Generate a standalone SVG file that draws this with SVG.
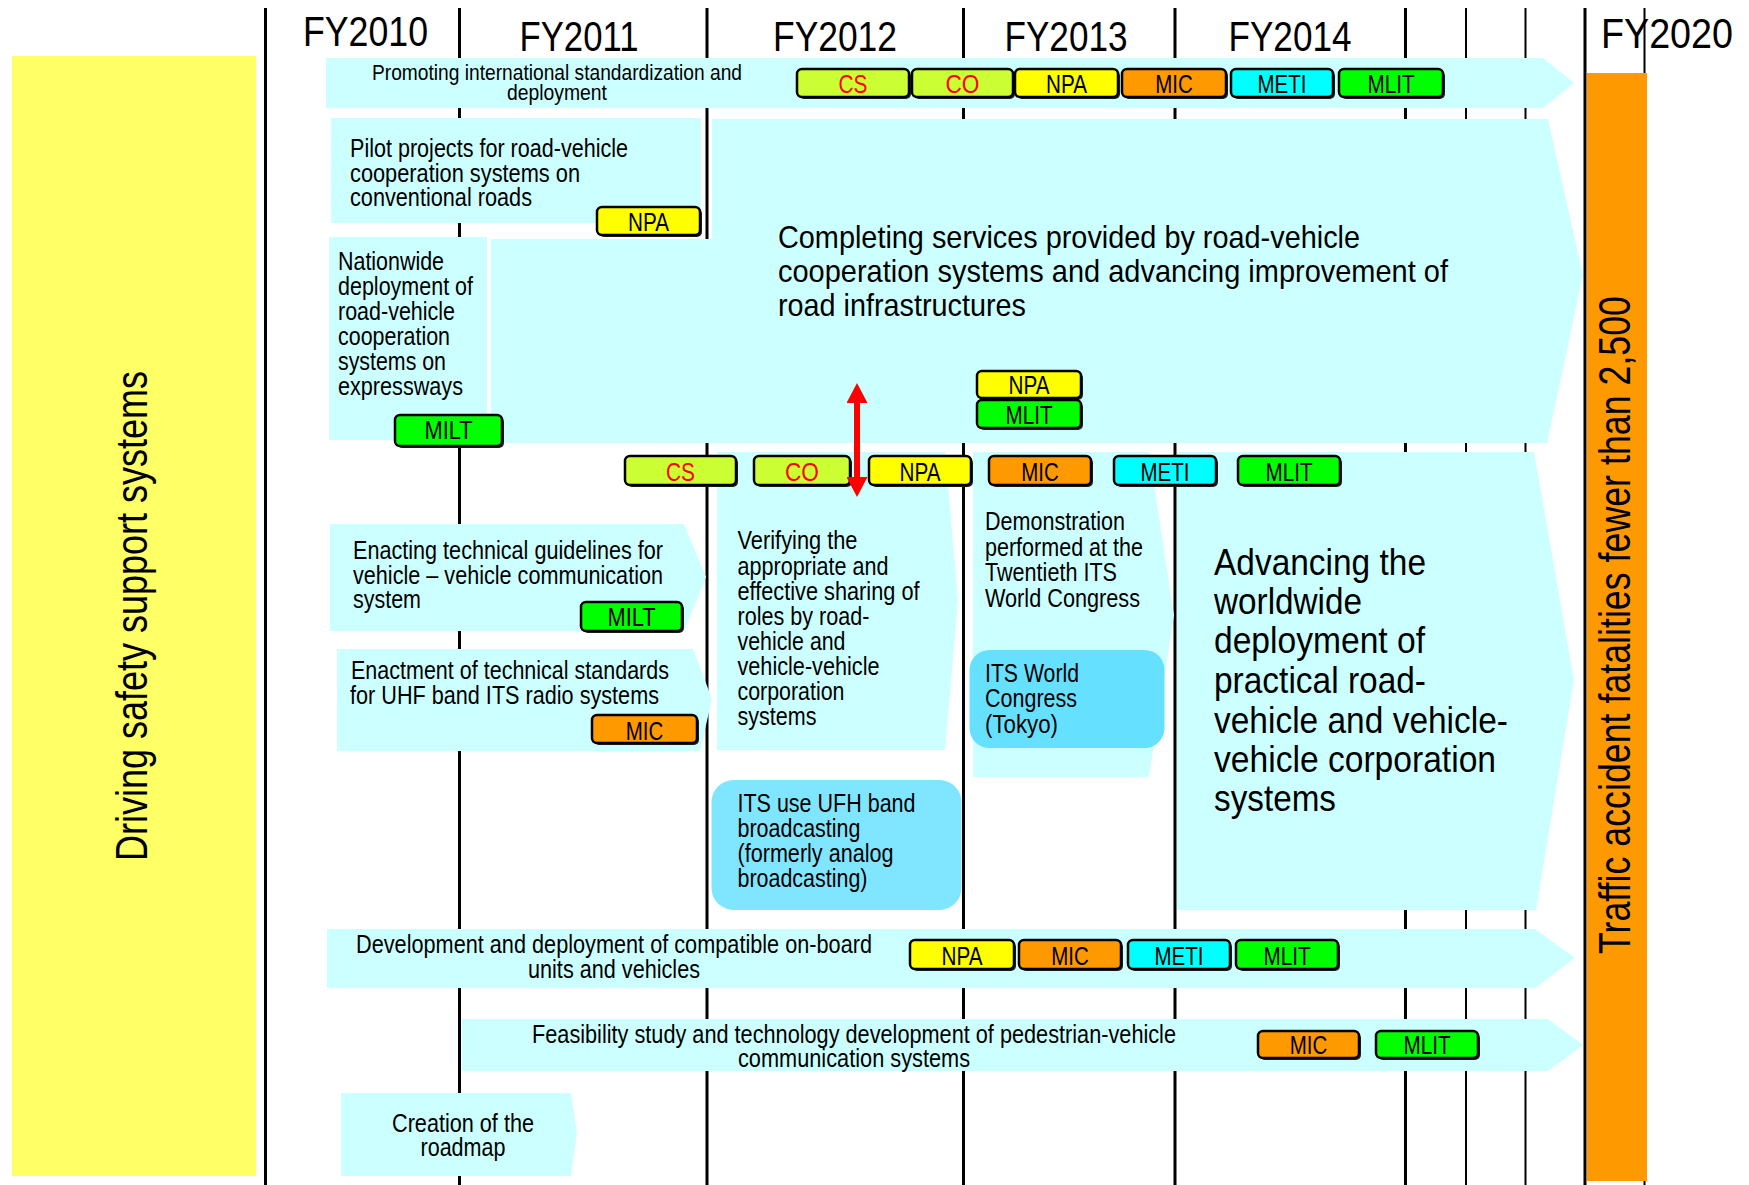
<svg xmlns="http://www.w3.org/2000/svg" width="1749" height="1185" viewBox="0 0 1749 1185">
<style>
.t{font-family:"Liberation Sans Narrow","Liberation Sans",Arial,sans-serif;fill:#000}
.b{font-size:26px}
.s{font-size:22px}
.m{font-size:25px}
.hdr{font-size:42px}
.cy{fill:#CCFFFF}
.vl{stroke:#000;stroke-width:3}
.vt{stroke:#000;stroke-width:2}
.sh{fill:#222}
.bx{stroke:#000;stroke-width:2.5}
.tt{font-size:25px;text-anchor:middle}
.red{fill:#FF0000}
.cs{fill:#CCFF33}.npa{fill:#FFFF00}.mic{fill:#FF9900}.meti{fill:#00FFFF}.mlit{fill:#00FF00}
</style>
<defs>
<marker id="ah" viewBox="0 0 20 21" refX="0" refY="10.5" markerWidth="20" markerHeight="21" markerUnits="userSpaceOnUse" orient="auto-start-reverse">
<path d="M0,0 L20,10.5 L0,21 z" fill="#FF0000"/>
</marker>
</defs>
<rect width="1749" height="1185" fill="#FFFFFF"/>

<g id="headers">
<text class="t hdr" x="365.5" y="46" text-anchor="middle" textLength="125" lengthAdjust="spacingAndGlyphs">FY2010</text>
<text class="t hdr" x="579" y="51" text-anchor="middle" textLength="119" lengthAdjust="spacingAndGlyphs">FY2011</text>
<text class="t hdr" x="835" y="51" text-anchor="middle" textLength="124" lengthAdjust="spacingAndGlyphs">FY2012</text>
<text class="t hdr" x="1066" y="51" text-anchor="middle" textLength="123" lengthAdjust="spacingAndGlyphs">FY2013</text>
<text class="t hdr" x="1290" y="51" text-anchor="middle" textLength="123" lengthAdjust="spacingAndGlyphs">FY2014</text>
<text class="t hdr" x="1667" y="48" text-anchor="middle" textLength="132" lengthAdjust="spacingAndGlyphs">FY2020</text>
</g>

<g id="year-lines">
<line class="vl" x1="265.5" y1="8" x2="265.5" y2="1185"/>
<line class="vl" x1="459.5" y1="8" x2="459.5" y2="1185"/>
<line class="vl" x1="707" y1="8" x2="707" y2="1185"/>
<line class="vl" x1="963.5" y1="8" x2="963.5" y2="1185"/>
<line class="vl" x1="1175" y1="8" x2="1175" y2="1185"/>
<line class="vl" x1="1405.5" y1="8" x2="1405.5" y2="1185"/>
<line class="vt" x1="1466" y1="8" x2="1466" y2="1185"/>
<line class="vt" x1="1525.5" y1="8" x2="1525.5" y2="1185"/>
<line class="vl" x1="1585" y1="8" x2="1585" y2="1185"/>
<line class="vt" x1="1644.5" y1="8" x2="1644.5" y2="1185"/>
</g>

<g id="left-category">
<rect x="12" y="56" width="244" height="1120" fill="#FFFF66"/>
<text class="t" font-size="44" transform="translate(147,861) rotate(-90)" textLength="490" lengthAdjust="spacingAndGlyphs">Driving safety support systems</text>
</g>

<g id="goal">
<rect x="1587" y="73" width="60" height="1108" fill="#FF9900"/>
<text class="t" font-size="44" transform="translate(1630,954) rotate(-90)" textLength="658" lengthAdjust="spacingAndGlyphs">Traffic accident fatalities fewer than 2,500</text>
</g>

<g id="n-promoting">
<polygon class="cy" points="326,58 1543,58 1574,83 1543,108 326,108"/>
<text class="t s" x="557" y="80" text-anchor="middle" textLength="370" lengthAdjust="spacingAndGlyphs">Promoting international standardization and</text>
<text class="t s" x="557" y="100" text-anchor="middle" textLength="100" lengthAdjust="spacingAndGlyphs">deployment</text>
</g>

<g id="n-completing">
<polygon class="cy" points="712,119 1548,119 1583,275 1547,443 491,443 491,239 712,239"/>
<text class="t" font-size="32" x="778" y="248" textLength="582" lengthAdjust="spacingAndGlyphs">Completing services provided by road-vehicle</text>
<text class="t" font-size="32" x="778" y="282" textLength="670" lengthAdjust="spacingAndGlyphs">cooperation systems and advancing improvement of</text>
<text class="t" font-size="32" x="778" y="316" textLength="248" lengthAdjust="spacingAndGlyphs">road infrastructures</text>
</g>

<g id="n-pilot">
<rect class="cy" x="331" y="118" width="370" height="105"/>
<text class="t b" x="350" y="157" textLength="278" lengthAdjust="spacingAndGlyphs">Pilot projects for road-vehicle</text>
<text class="t b" x="350" y="182" textLength="230" lengthAdjust="spacingAndGlyphs">cooperation systems on</text>
<text class="t b" x="350" y="206" textLength="182" lengthAdjust="spacingAndGlyphs">conventional roads</text>
</g>

<g id="n-nationwide">
<rect class="cy" x="329" y="237" width="158" height="203"/>
<text class="t b" x="338" y="270" textLength="106" lengthAdjust="spacingAndGlyphs">Nationwide</text>
<text class="t b" x="338" y="295" textLength="135" lengthAdjust="spacingAndGlyphs">deployment of</text>
<text class="t b" x="338" y="320" textLength="117" lengthAdjust="spacingAndGlyphs">road-vehicle</text>
<text class="t b" x="338" y="345" textLength="112" lengthAdjust="spacingAndGlyphs">cooperation</text>
<text class="t b" x="338" y="370" textLength="108" lengthAdjust="spacingAndGlyphs">systems on</text>
<text class="t b" x="338" y="395" textLength="125" lengthAdjust="spacingAndGlyphs">expressways</text>
</g>

<g id="n-enacting">
<polygon class="cy" points="330,524 684,524 706,577 684,631 330,631"/>
<text class="t b" x="353" y="559" textLength="310" lengthAdjust="spacingAndGlyphs">Enacting technical guidelines for</text>
<text class="t b" x="353" y="584" textLength="310" lengthAdjust="spacingAndGlyphs">vehicle – vehicle communication</text>
<text class="t b" x="353" y="608" textLength="68" lengthAdjust="spacingAndGlyphs">system</text>
</g>

<g id="n-enactment">
<polygon class="cy" points="337,649 693,649 712,699 700,751 337,751"/>
<text class="t b" x="351" y="679" textLength="318" lengthAdjust="spacingAndGlyphs">Enactment of technical standards</text>
<text class="t b" x="350" y="704" textLength="309" lengthAdjust="spacingAndGlyphs">for UHF band ITS radio systems</text>
</g>

<g id="n-verifying">
<polygon class="cy" points="717,452 945,452 958,600 945,750 717,750"/>
<text class="t b" x="737.5" y="549" textLength="120" lengthAdjust="spacingAndGlyphs">Verifying the</text>
<text class="t b" x="737.5" y="575" textLength="151" lengthAdjust="spacingAndGlyphs">appropriate and</text>
<text class="t b" x="737.5" y="600" textLength="182" lengthAdjust="spacingAndGlyphs">effective sharing of</text>
<text class="t b" x="737.5" y="625" textLength="132" lengthAdjust="spacingAndGlyphs">roles by road-</text>
<text class="t b" x="737.5" y="650" textLength="108" lengthAdjust="spacingAndGlyphs">vehicle and</text>
<text class="t b" x="737.5" y="675" textLength="142" lengthAdjust="spacingAndGlyphs">vehicle-vehicle</text>
<text class="t b" x="737.5" y="700" textLength="107" lengthAdjust="spacingAndGlyphs">corporation</text>
<text class="t b" x="737.5" y="725" textLength="79" lengthAdjust="spacingAndGlyphs">systems</text>
</g>

<g id="n-ufh">
<rect x="711.5" y="780" width="250" height="130" rx="22" ry="22" fill="#80E6FF"/>
<text class="t b" x="737.5" y="812" textLength="178" lengthAdjust="spacingAndGlyphs">ITS use UFH band</text>
<text class="t b" x="737.5" y="837" textLength="123" lengthAdjust="spacingAndGlyphs">broadcasting</text>
<text class="t b" x="737.5" y="862" textLength="156" lengthAdjust="spacingAndGlyphs">(formerly analog</text>
<text class="t b" x="737.5" y="887" textLength="130" lengthAdjust="spacingAndGlyphs">broadcasting)</text>
</g>

<g id="n-demonstration">
<polygon class="cy" points="973,452 1149,452 1174,615 1149,777 973,777"/>
<text class="t b" x="985" y="530" textLength="140" lengthAdjust="spacingAndGlyphs">Demonstration</text>
<text class="t b" x="985" y="556" textLength="158" lengthAdjust="spacingAndGlyphs">performed at the</text>
<text class="t b" x="985" y="581" textLength="132" lengthAdjust="spacingAndGlyphs">Twentieth ITS</text>
<text class="t b" x="985" y="607" textLength="155" lengthAdjust="spacingAndGlyphs">World Congress</text>
</g>

<g id="n-congress">
<rect x="969.5" y="650" width="195" height="98" rx="20" ry="20" fill="#66E0FF"/>
<text class="t b" x="985" y="682" textLength="94" lengthAdjust="spacingAndGlyphs">ITS World</text>
<text class="t b" x="985" y="707" textLength="92" lengthAdjust="spacingAndGlyphs">Congress</text>
<text class="t b" x="985" y="733" textLength="73" lengthAdjust="spacingAndGlyphs">(Tokyo)</text>
</g>

<g id="n-advancing">
<polygon class="cy" points="1177,452 1534,452 1574,680 1536,910 1177,910"/>
<text class="t" font-size="36" x="1214" y="575" textLength="212" lengthAdjust="spacingAndGlyphs">Advancing the</text>
<text class="t" font-size="36" x="1214" y="614" textLength="148" lengthAdjust="spacingAndGlyphs">worldwide</text>
<text class="t" font-size="36" x="1214" y="653" textLength="211" lengthAdjust="spacingAndGlyphs">deployment of</text>
<text class="t" font-size="36" x="1214" y="693" textLength="212" lengthAdjust="spacingAndGlyphs">practical road-</text>
<text class="t" font-size="36" x="1214" y="733" textLength="294" lengthAdjust="spacingAndGlyphs">vehicle and vehicle-</text>
<text class="t" font-size="36" x="1214" y="772" textLength="282" lengthAdjust="spacingAndGlyphs">vehicle corporation</text>
<text class="t" font-size="36" x="1214" y="811" textLength="122" lengthAdjust="spacingAndGlyphs">systems</text>
</g>

<g id="n-development">
<polygon class="cy" points="327,929 1535,929 1575,958 1535,988 327,988"/>
<text class="t m" x="614" y="953" text-anchor="middle" textLength="516" lengthAdjust="spacingAndGlyphs">Development and deployment of compatible on-board</text>
<text class="t m" x="614" y="978" text-anchor="middle" textLength="172" lengthAdjust="spacingAndGlyphs">units and vehicles</text>
</g>

<g id="n-feasibility">
<polygon class="cy" points="462,1019 1548,1019 1583,1045 1548,1071 462,1071"/>
<text class="t m" x="854" y="1043" text-anchor="middle" textLength="644" lengthAdjust="spacingAndGlyphs">Feasibility study and technology development of pedestrian-vehicle</text>
<text class="t m" x="854" y="1067" text-anchor="middle" textLength="232" lengthAdjust="spacingAndGlyphs">communication systems</text>
</g>

<g id="n-creation">
<polygon class="cy" points="341,1093 571,1093 577,1133 571,1176 341,1176"/>
<text class="t b" x="463" y="1132" text-anchor="middle" textLength="142" lengthAdjust="spacingAndGlyphs">Creation of the</text>
<text class="t b" x="463" y="1156" text-anchor="middle" textLength="85" lengthAdjust="spacingAndGlyphs">roadmap</text>
</g>

<g id="tags">
<g id="tag-row1">
<rect class="sh" x="799" y="71" width="112" height="28" rx="5"/><rect class="bx cs" x="797" y="69" width="112" height="28" rx="5"/><text class="t tt red" x="853" y="93" textLength="29" lengthAdjust="spacingAndGlyphs">CS</text>
<rect class="sh" x="914" y="71" width="101" height="28" rx="5"/><rect class="bx cs" x="912" y="69" width="101" height="28" rx="5"/><text class="t tt red" x="962.5" y="93" textLength="34" lengthAdjust="spacingAndGlyphs">CO</text>
<rect class="sh" x="1017" y="71" width="103" height="28" rx="5"/><rect class="bx npa" x="1015" y="69" width="103" height="28" rx="5"/><text class="t tt" x="1066.5" y="93" textLength="41" lengthAdjust="spacingAndGlyphs">NPA</text>
<rect class="sh" x="1124" y="71" width="104" height="28" rx="5"/><rect class="bx mic" x="1122" y="69" width="104" height="28" rx="5"/><text class="t tt" x="1174" y="93" textLength="37.5" lengthAdjust="spacingAndGlyphs">MIC</text>
<rect class="sh" x="1233" y="71" width="102" height="28" rx="5"/><rect class="bx meti" x="1231" y="69" width="102" height="28" rx="5"/><text class="t tt" x="1282" y="93" textLength="49" lengthAdjust="spacingAndGlyphs">METI</text>
<rect class="sh" x="1341" y="71" width="104" height="28" rx="5"/><rect class="bx mlit" x="1339" y="69" width="104" height="28" rx="5"/><text class="t tt" x="1391" y="93" textLength="47" lengthAdjust="spacingAndGlyphs">MLIT</text>
</g>
<g id="tag-pilot">
<rect class="sh" x="599" y="209" width="103" height="28" rx="5"/><rect class="bx npa" x="597" y="207" width="103" height="28" rx="5"/><text class="t tt" x="648.5" y="231" textLength="41" lengthAdjust="spacingAndGlyphs">NPA</text>
</g>
<g id="tag-nationwide">
<rect class="sh" x="397" y="417" width="107" height="31" rx="5"/><rect class="bx mlit" x="395" y="415" width="107" height="31" rx="5"/><text class="t tt" x="448.5" y="439" textLength="48" lengthAdjust="spacingAndGlyphs">MILT</text>
</g>
<g id="tag-stack">
<rect class="sh" x="979" y="373" width="104" height="27" rx="5"/><rect class="bx npa" x="977" y="371" width="104" height="27" rx="5"/><text class="t tt" x="1029" y="394" textLength="41" lengthAdjust="spacingAndGlyphs">NPA</text>
<rect class="sh" x="979" y="402" width="104" height="28" rx="5"/><rect class="bx mlit" x="977" y="400" width="104" height="28" rx="5"/><text class="t tt" x="1029" y="424" textLength="47" lengthAdjust="spacingAndGlyphs">MLIT</text>
</g>
<g id="tag-row2">
<rect class="sh" x="627" y="458" width="111" height="29" rx="5"/><rect class="bx cs" x="625" y="456" width="111" height="29" rx="5"/><text class="t tt red" x="680.5" y="481" textLength="29" lengthAdjust="spacingAndGlyphs">CS</text>
<rect class="sh" x="756" y="458" width="96" height="29" rx="5"/><rect class="bx cs" x="754" y="456" width="96" height="29" rx="5"/><text class="t tt red" x="802" y="481" textLength="34" lengthAdjust="spacingAndGlyphs">CO</text>
<rect class="sh" x="871" y="458" width="102" height="29" rx="5"/><rect class="bx npa" x="869" y="456" width="102" height="29" rx="5"/><text class="t tt" x="920" y="481" textLength="41" lengthAdjust="spacingAndGlyphs">NPA</text>
<rect class="sh" x="991" y="458" width="102" height="29" rx="5"/><rect class="bx mic" x="989" y="456" width="102" height="29" rx="5"/><text class="t tt" x="1040" y="481" textLength="37.5" lengthAdjust="spacingAndGlyphs">MIC</text>
<rect class="sh" x="1116" y="458" width="102" height="29" rx="5"/><rect class="bx meti" x="1114" y="456" width="102" height="29" rx="5"/><text class="t tt" x="1165" y="481" textLength="49" lengthAdjust="spacingAndGlyphs">METI</text>
<rect class="sh" x="1240" y="458" width="102" height="29" rx="5"/><rect class="bx mlit" x="1238" y="456" width="102" height="29" rx="5"/><text class="t tt" x="1289" y="481" textLength="47" lengthAdjust="spacingAndGlyphs">MLIT</text>
</g>
<g id="tag-enacting">
<rect class="sh" x="583" y="604" width="101" height="29" rx="5"/><rect class="bx mlit" x="581" y="602" width="101" height="29" rx="5"/><text class="t tt" x="631.5" y="626" textLength="48" lengthAdjust="spacingAndGlyphs">MILT</text>
</g>
<g id="tag-enactment">
<rect class="sh" x="594" y="717" width="105" height="28" rx="5"/><rect class="bx mic" x="592" y="715" width="105" height="28" rx="5"/><text class="t tt" x="644.5" y="740" textLength="37.5" lengthAdjust="spacingAndGlyphs">MIC</text>
</g>
<g id="tag-development">
<rect class="sh" x="912" y="942" width="104" height="29" rx="5"/><rect class="bx npa" x="910" y="940" width="104" height="29" rx="5"/><text class="t tt" x="962" y="965" textLength="41" lengthAdjust="spacingAndGlyphs">NPA</text>
<rect class="sh" x="1021" y="942" width="102" height="29" rx="5"/><rect class="bx mic" x="1019" y="940" width="102" height="29" rx="5"/><text class="t tt" x="1070" y="965" textLength="37.5" lengthAdjust="spacingAndGlyphs">MIC</text>
<rect class="sh" x="1130" y="942" width="102" height="29" rx="5"/><rect class="bx meti" x="1128" y="940" width="102" height="29" rx="5"/><text class="t tt" x="1179" y="965" textLength="49" lengthAdjust="spacingAndGlyphs">METI</text>
<rect class="sh" x="1238" y="942" width="102" height="29" rx="5"/><rect class="bx mlit" x="1236" y="940" width="102" height="29" rx="5"/><text class="t tt" x="1287" y="965" textLength="47" lengthAdjust="spacingAndGlyphs">MLIT</text>
</g>
<g id="tag-feasibility">
<rect class="sh" x="1260" y="1033" width="101" height="27" rx="5"/><rect class="bx mic" x="1258" y="1031" width="101" height="27" rx="5"/><text class="t tt" x="1308.5" y="1054" textLength="37.5" lengthAdjust="spacingAndGlyphs">MIC</text>
<rect class="sh" x="1378" y="1033" width="102" height="27" rx="5"/><rect class="bx mlit" x="1376" y="1031" width="102" height="27" rx="5"/><text class="t tt" x="1427" y="1054" textLength="47" lengthAdjust="spacingAndGlyphs">MLIT</text>
</g>
</g>

<g id="connectors">
<line x1="857" y1="403" x2="857" y2="477" stroke="#FF0000" stroke-width="6" marker-start="url(#ah)" marker-end="url(#ah)"/>
</g>
</svg>
